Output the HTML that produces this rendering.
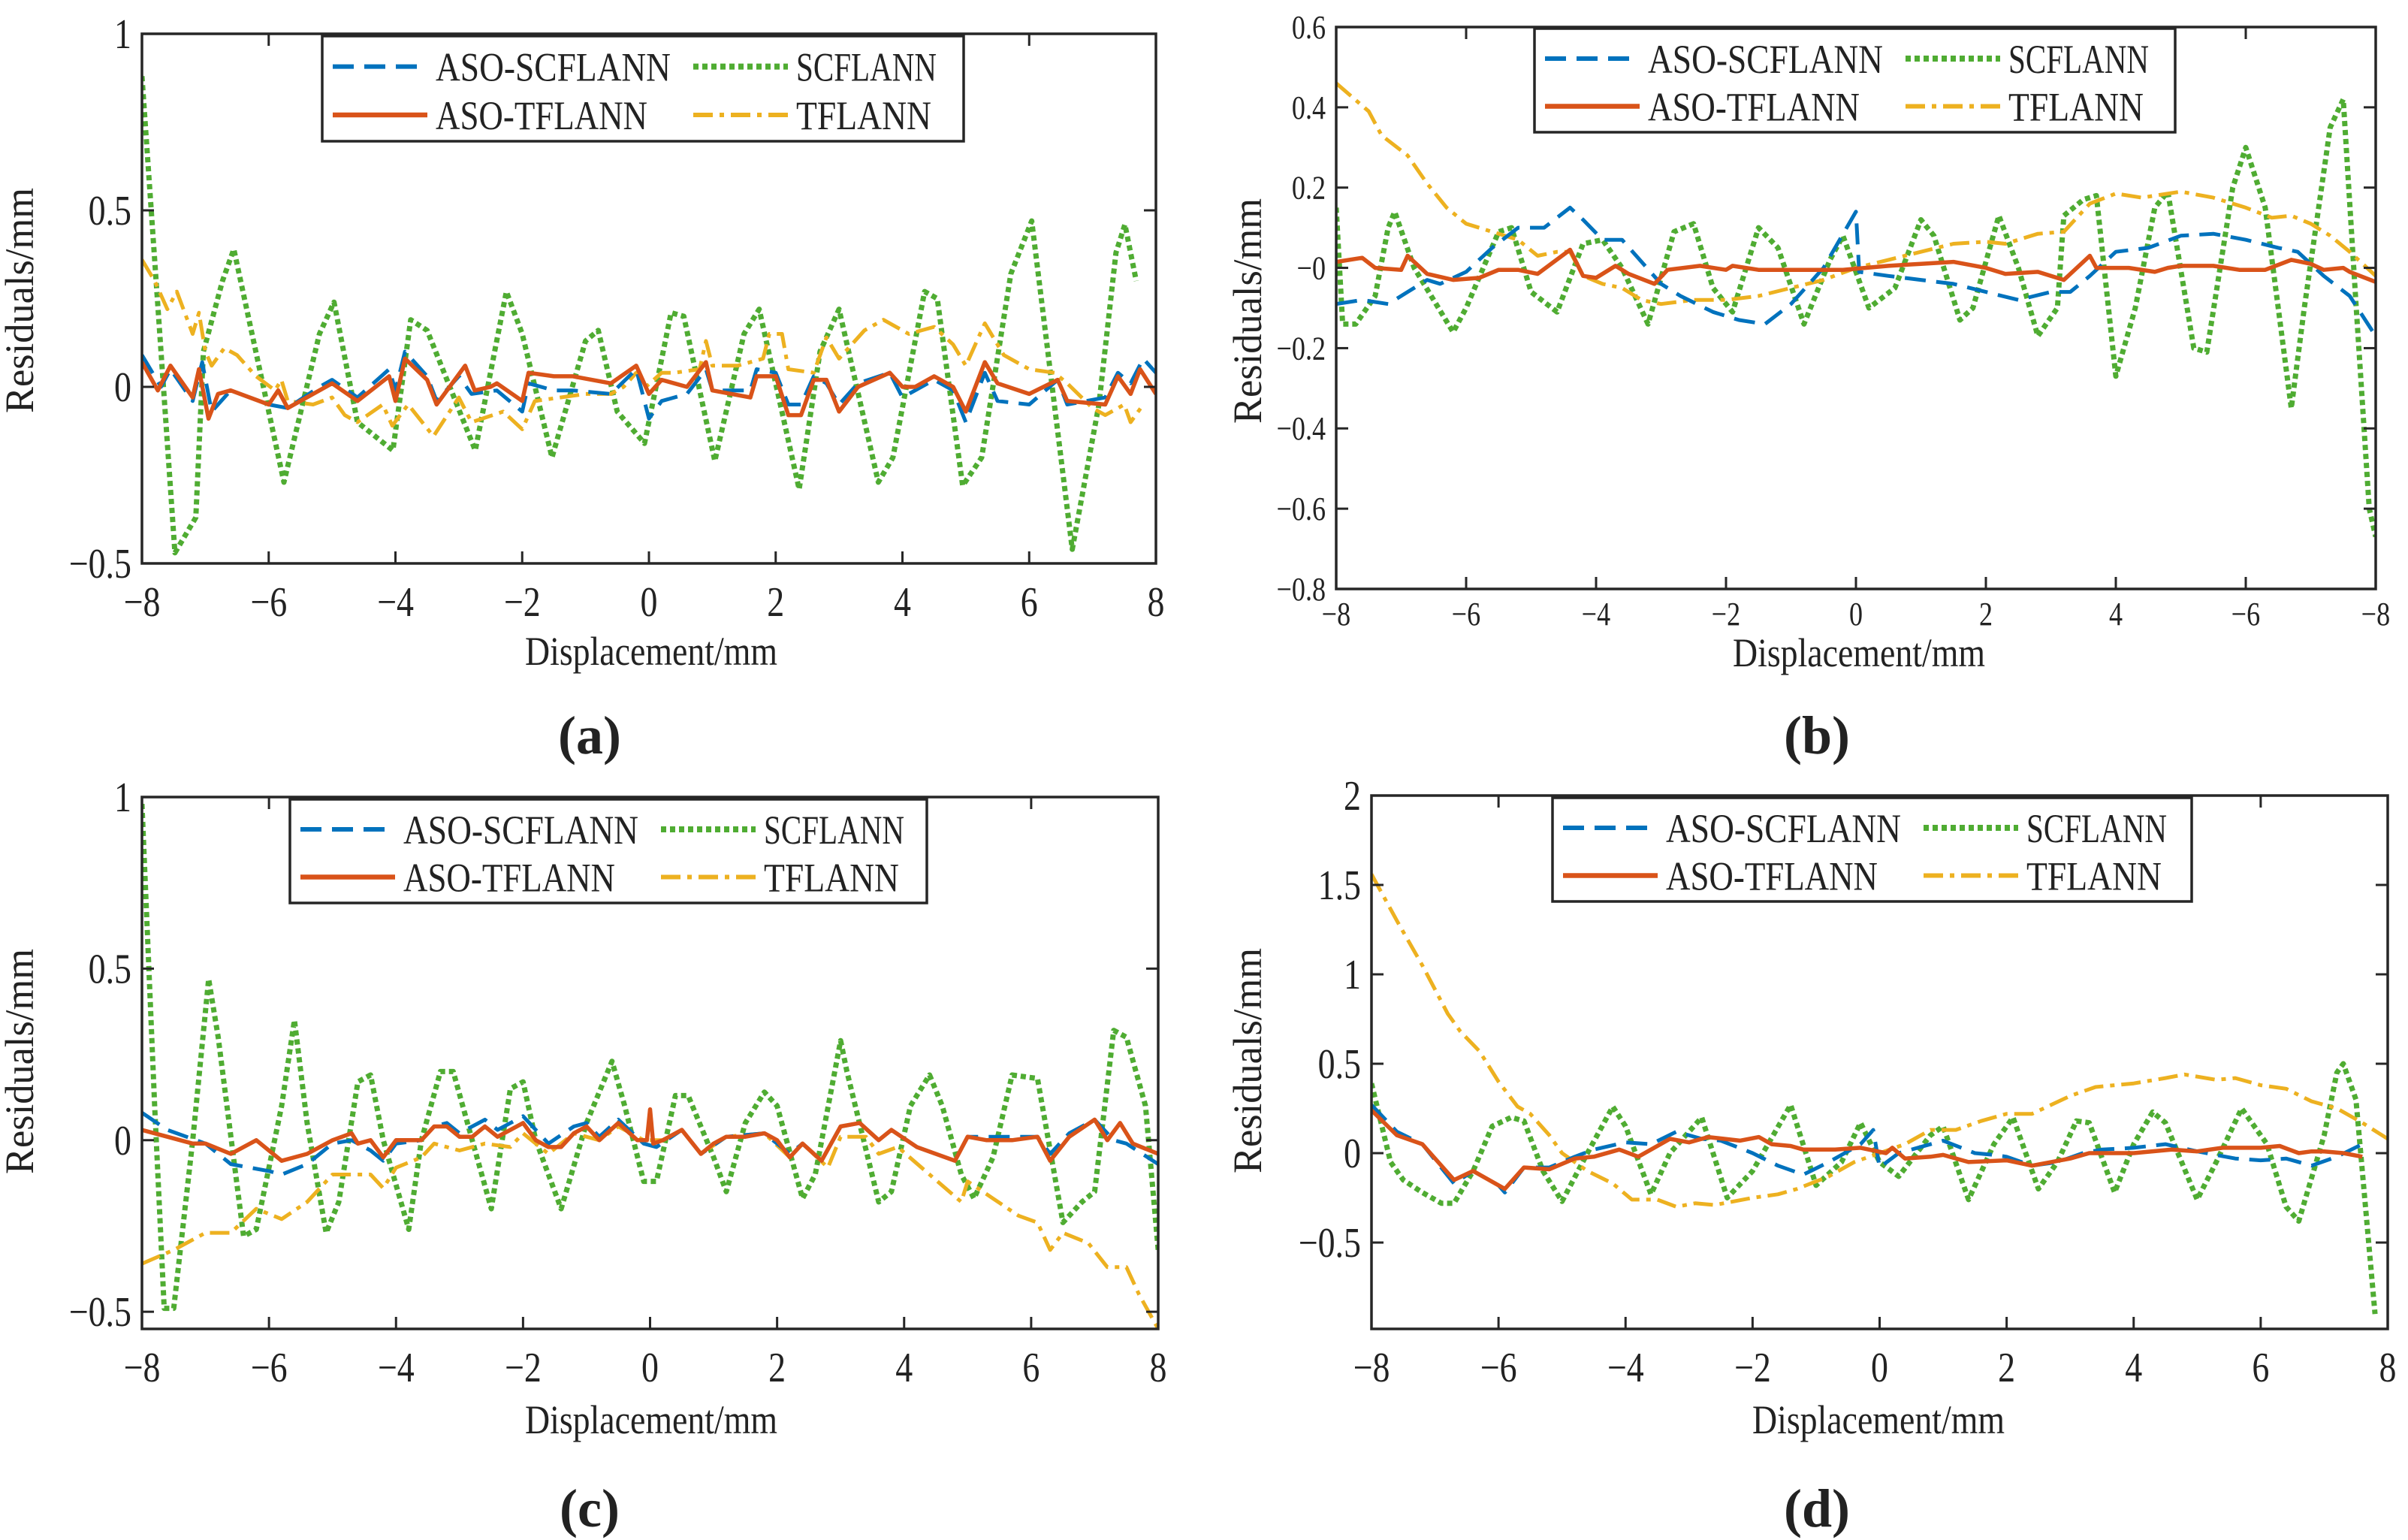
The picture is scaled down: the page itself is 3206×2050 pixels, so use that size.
<!DOCTYPE html>
<html><head><meta charset="utf-8"><style>
html,body{margin:0;padding:0;background:#fff;}
svg{display:block;}
text{font-family:"Liberation Serif",serif;fill:#222;}
</style></head><body>
<svg id="fig" xmlns="http://www.w3.org/2000/svg" width="3206" height="2050" viewBox="0 0 3206 2050"></svg>
<script>
// ---------- Panel (a) data ----------
const aGreenX=[-8,-7.48,-7.15,-7.03,-6.73,-6.55,-5.76,-5.2,-4.97,-4.6,-4.04,-3.76,-3.5,-2.74,-2.25,-2.0,-1.53,-1.0,-0.8,-0.5,-0.07,0.35,0.55,1.04,1.5,1.74,2.37,2.7,3.0,3.62,3.85,4.35,4.55,4.95,5.25,5.71,6.04,6.68,7.1,7.37,7.51,7.69];
const aGreenY=[0.88,-0.47,-0.37,0.1,0.3,0.39,-0.27,0.15,0.24,-0.1,-0.18,0.19,0.16,-0.18,0.27,0.15,-0.2,0.13,0.16,-0.07,-0.16,0.21,0.2,-0.21,0.15,0.22,-0.29,0.1,0.22,-0.27,-0.2,0.27,0.25,-0.28,-0.2,0.32,0.47,-0.46,-0.05,0.38,0.46,0.3];
const aRedX=[-8,-7.75,-7.55,-7.2,-7.1,-6.95,-6.8,-6.6,-6.0,-5.85,-5.7,-5.2,-5.0,-4.6,-4.1,-4.0,-3.85,-3.5,-3.35,-2.9,-2.75,-2.5,-2.4,-2.0,-1.9,-1.5,-1.2,-0.6,-0.2,0,0.2,0.6,0.9,1.0,1.6,1.7,2.0,2.2,2.4,2.6,2.8,3.0,3.3,3.8,4.0,4.2,4.5,4.8,5.0,5.3,5.5,6.0,6.45,6.6,7.2,7.4,7.6,7.75,8];
const aRedY=[0.07,-0.01,0.06,-0.03,0.05,-0.09,-0.02,-0.01,-0.05,-0.01,-0.06,-0.01,0.01,-0.04,0.03,-0.04,0.08,0.02,-0.05,0.06,-0.01,0,0.01,-0.04,0.04,0.03,0.03,0.01,0.06,-0.02,0.02,0,0.07,-0.01,-0.03,0.03,0.03,-0.08,-0.08,0.02,0.02,-0.07,0,0.04,0,0,0.03,0,-0.07,0.07,0.01,-0.02,0.02,-0.04,-0.05,0.03,-0.02,0.05,-0.02];
const aBlueX=[-8,-7.7,-7.55,-7.2,-7.05,-6.9,-6.6,-6.0,-5.7,-5.2,-5.0,-4.6,-4.1,-4.0,-3.85,-3.5,-3.35,-3.0,-2.8,-2.4,-2.0,-1.9,-1.5,-1.2,-0.6,-0.2,0,0.2,0.6,0.9,1.0,1.6,1.7,2.0,2.2,2.4,2.6,2.8,3.0,3.3,3.8,4.0,4.2,4.5,4.8,5.0,5.3,5.5,6.0,6.45,6.6,7.2,7.4,7.6,7.8,8];
const aBlueY=[0.09,0,0.05,-0.04,0.07,-0.07,-0.01,-0.05,-0.06,0,0.02,-0.03,0.05,-0.01,0.1,0.03,-0.04,0.03,-0.02,-0.01,-0.07,0.01,-0.01,-0.01,-0.02,0.05,-0.09,-0.04,-0.02,0.05,-0.01,-0.01,0.05,0.04,-0.05,-0.05,0.03,0.01,-0.05,0.01,0.04,-0.03,-0.01,0.02,-0.01,-0.1,0.04,-0.04,-0.05,0.02,-0.05,-0.03,0.04,0.01,0.08,0.04];
const aYellowX=[-8,-7.8,-7.6,-7.45,-7.2,-7.1,-7.0,-6.9,-6.7,-6.5,-6.2,-5.9,-5.8,-5.7,-5.3,-5.0,-4.8,-4.6,-4.2,-4.05,-3.8,-3.4,-3.0,-2.8,-2.3,-2.0,-1.8,-1.4,-1.0,-0.6,-0.4,-0.2,-0.05,0.2,0.4,0.8,0.9,1.0,1.4,1.8,1.9,2.1,2.2,2.6,2.8,3.0,3.2,3.4,3.7,4.1,4.5,4.8,5.0,5.3,5.6,6.0,6.4,6.6,7.0,7.2,7.5,7.6,7.8];
const aYellowY=[0.36,0.3,0.22,0.27,0.15,0.21,0.1,0.06,0.11,0.09,0.03,-0.01,0.02,-0.04,-0.05,-0.03,-0.08,-0.1,-0.05,-0.11,-0.05,-0.14,-0.03,-0.1,-0.07,-0.12,-0.04,-0.03,-0.02,-0.02,0,0.04,0,0.04,0.04,0.05,0.13,0.06,0.06,0.08,0.15,0.15,0.05,0.04,0.14,0.08,0.12,0.16,0.19,0.15,0.17,0.12,0.06,0.18,0.09,0.05,0.04,0.01,-0.06,-0.08,-0.05,-0.1,-0.05];
// ---------- Panel (b) data ----------
const bYellowX=[-8,-7.5,-7.3,-6.9,-6.6,-6.3,-6.0,-5.6,-5.2,-4.9,-4.6,-4.4,-4.2,-3.9,-3.6,-3.3,-3.0,-2.5,-2.0,-1.5,-1.0,-0.5,0,0.5,1.0,1.5,2.0,2.3,2.8,3.2,3.6,4.0,4.4,5.0,5.5,6.0,6.4,6.7,7.0,7.3,7.6,8];
const bYellowY=[0.46,0.39,0.33,0.28,0.21,0.15,0.11,0.09,0.07,0.03,0.04,0.04,-0.02,-0.04,-0.05,-0.08,-0.09,-0.08,-0.08,-0.07,-0.05,-0.03,0,0.02,0.04,0.06,0.065,0.06,0.085,0.09,0.16,0.185,0.175,0.19,0.175,0.15,0.125,0.13,0.11,0.08,0.04,-0.02];
const bBlueX=[-8,-7.6,-7.2,-6.9,-6.6,-6.4,-6.0,-5.6,-5.2,-4.8,-4.4,-4.2,-3.9,-3.6,-3.0,-2.7,-2.2,-1.8,-1.4,-1.0,-0.5,0,0.05,0.5,1.0,1.5,2.0,2.5,3.0,3.3,3.6,4.0,4.5,5.0,5.5,6.0,6.5,6.8,7.2,7.6,8];
const bBlueY=[-0.09,-0.08,-0.09,-0.06,-0.03,-0.04,-0.01,0.05,0.1,0.1,0.15,0.12,0.07,0.07,-0.04,-0.07,-0.11,-0.13,-0.14,-0.09,0,0.14,-0.01,-0.02,-0.03,-0.04,-0.06,-0.08,-0.06,-0.06,-0.02,0.04,0.05,0.08,0.085,0.07,0.05,0.04,-0.02,-0.07,-0.17];
const bRedX=[-8,-7.6,-7.4,-7.0,-6.9,-6.6,-6.2,-5.8,-5.5,-5.2,-4.9,-4.4,-4.2,-4.0,-3.7,-3.5,-3.1,-2.9,-2.4,-2.0,-1.9,-1.5,-1.2,-0.8,-0.2,0.5,1.0,1.5,2.0,2.3,2.8,3.2,3.6,3.7,4.2,4.6,4.8,5.0,5.5,5.9,6.3,6.7,7.0,7.2,7.5,7.6,8];
const bRedY=[0.015,0.025,0,-0.005,0.03,-0.015,-0.03,-0.025,-0.005,-0.005,-0.015,0.045,-0.02,-0.025,0.005,-0.015,-0.04,-0.005,0.005,-0.005,0.005,-0.005,-0.005,-0.005,-0.005,0.005,0.01,0.015,0,-0.015,-0.01,-0.03,0.03,0,0,-0.01,0,0.005,0.005,-0.005,-0.005,0.02,0.01,-0.005,0,-0.01,-0.035];
const bGreenX=[-8,-7.9,-7.7,-7.4,-7.2,-7.1,-6.8,-6.2,-6.0,-5.5,-5.3,-5.0,-4.6,-4.2,-3.9,-3.6,-3.2,-2.8,-2.5,-2.2,-1.9,-1.5,-1.2,-0.8,-0.4,-0.2,0.2,0.6,1.0,1.2,1.6,1.8,2.2,2.5,2.8,3.1,3.2,3.5,3.7,4.0,4.3,4.6,4.8,5.2,5.4,5.8,6.0,6.3,6.7,6.9,7.3,7.5,7.7,7.9,8];
const bGreenY=[0.15,-0.14,-0.14,-0.07,0.1,0.14,0,-0.16,-0.1,0.09,0.1,-0.06,-0.11,0.06,0.07,0,-0.14,0.09,0.11,-0.05,-0.11,0.1,0.05,-0.14,0.02,0.08,-0.1,-0.05,0.12,0.08,-0.13,-0.1,0.13,0,-0.17,-0.1,0.13,0.17,0.18,-0.27,-0.1,0.15,0.19,-0.2,-0.21,0.2,0.3,0.15,-0.35,-0.1,0.35,0.42,-0.1,-0.6,-0.67];
// ---------- Panel (c) data ----------
const cGreenX=[-8,-7.8,-7.65,-7.5,-7.2,-6.95,-6.8,-6.4,-6.2,-5.8,-5.6,-5.4,-5.1,-4.9,-4.6,-4.4,-4.2,-3.8,-3.6,-3.3,-3.1,-2.8,-2.5,-2.2,-2.0,-1.8,-1.4,-1.0,-0.6,-0.4,-0.1,0.1,0.4,0.6,1.0,1.2,1.5,1.8,2.0,2.4,2.6,3.0,3.1,3.6,3.8,4.1,4.4,4.6,4.9,5.1,5.4,5.7,6.1,6.5,6.8,7.0,7.3,7.5,7.8,8];
const cGreenY=[0.98,0.1,-0.49,-0.49,0,0.47,0.3,-0.28,-0.26,0.1,0.35,0.05,-0.27,-0.18,0.17,0.19,0,-0.26,0,0.2,0.2,0,-0.2,0.15,0.17,0,-0.2,0.05,0.23,0.1,-0.12,-0.12,0.13,0.13,-0.05,-0.15,0.05,0.14,0.1,-0.17,-0.1,0.29,0.2,-0.18,-0.15,0.1,0.19,0.1,-0.1,-0.17,-0.05,0.19,0.18,-0.24,-0.18,-0.15,0.32,0.3,0.1,-0.32];
const cRedX=[-8,-7.6,-7.2,-7.0,-6.6,-6.2,-5.8,-5.4,-5.0,-4.7,-4.6,-4.4,-4.2,-4.0,-3.6,-3.4,-3.2,-3.0,-2.8,-2.6,-2.4,-2.2,-2.0,-1.8,-1.6,-1.4,-1.2,-1.0,-0.8,-0.5,-0.2,-0.05,0,0.05,0.2,0.5,0.8,1.0,1.2,1.5,1.8,2.0,2.2,2.4,2.7,3.0,3.3,3.6,3.8,4.2,4.8,5.0,5.3,5.7,6.1,6.3,6.6,7.0,7.2,7.4,7.6,8];
const cRedY=[0.03,0.01,-0.01,-0.01,-0.04,0,-0.06,-0.04,0,0.02,-0.01,0,-0.05,0,0,0.04,0.04,0.01,0.01,0.04,0.01,0.03,0.05,0,-0.02,-0.02,0.02,0.04,0,0.05,0,0,0.09,-0.01,0,0.03,-0.04,-0.01,0.01,0.01,0.02,0,-0.05,-0.01,-0.06,0.04,0.05,0,0.03,-0.02,-0.06,0.01,0,0,0.01,-0.06,0.01,0.06,0,0.05,-0.01,-0.04];
const cBlueX=[-8,-7.6,-7.0,-6.6,-6.0,-5.8,-5.4,-5.0,-4.7,-4.4,-4.2,-4.0,-3.6,-3.4,-3.2,-3.0,-2.6,-2.4,-2.0,-1.6,-1.2,-1.0,-0.8,-0.5,-0.1,0.1,0.5,0.8,1.2,1.8,2.2,2.4,2.7,3.0,3.3,3.6,3.8,4.2,4.8,5.0,6.1,6.3,6.6,7.0,7.3,7.5,8];
const cBlueY=[0.08,0.03,-0.01,-0.07,-0.09,-0.1,-0.07,-0.01,0,-0.03,-0.06,-0.01,0,0.04,0.05,0.02,0.06,0.03,0.07,-0.01,0.04,0.05,0.01,0.06,-0.01,-0.02,0.03,-0.04,0.01,0.02,-0.04,-0.01,-0.06,0.04,0.05,0,0.03,-0.02,-0.06,0.01,0.01,-0.04,0.02,0.06,0,-0.01,-0.07];
const cYellowX=[-8,-7.5,-7.0,-6.6,-6.2,-5.8,-5.4,-5.0,-4.7,-4.4,-4.2,-4.0,-3.6,-3.4,-3.0,-2.6,-2.2,-2.0,-1.6,-1.2,-0.8,-0.5,-0.1,0.2,0.5,0.8,1.2,1.8,2.2,2.4,2.8,3.0,3.4,3.6,3.9,4.4,4.9,5.0,5.4,5.8,6.1,6.3,6.5,6.9,7.2,7.5,7.7,8];
const cYellowY=[-0.36,-0.32,-0.27,-0.27,-0.2,-0.23,-0.18,-0.1,-0.1,-0.1,-0.14,-0.08,-0.05,-0.01,-0.03,-0.01,-0.02,0.02,-0.04,0.02,0,0.04,0,0,0.03,-0.04,0.01,0.02,-0.05,-0.01,-0.08,0.01,0.01,-0.04,-0.02,-0.1,-0.18,-0.12,-0.17,-0.22,-0.24,-0.32,-0.27,-0.3,-0.37,-0.37,-0.45,-0.55];
// ---------- Panel (d) data ----------
const dYellowX=[-8,-7.6,-7.2,-6.8,-6.6,-6.3,-6.0,-5.7,-5.5,-5.2,-5.0,-4.6,-4.2,-3.9,-3.5,-3.2,-2.9,-2.6,-2.0,-1.6,-1.3,-0.8,-0.4,0,0.4,0.8,1.2,1.6,2.0,2.4,3.0,3.4,4.0,4.5,4.8,5.3,5.6,6.0,6.4,6.8,7.2,7.6,8];
const dYellowY=[1.56,1.3,1.05,0.78,0.68,0.57,0.4,0.26,0.22,0.1,0,-0.1,-0.17,-0.26,-0.26,-0.3,-0.28,-0.29,-0.25,-0.23,-0.2,-0.13,-0.05,0,0.05,0.13,0.13,0.18,0.22,0.22,0.32,0.37,0.39,0.42,0.44,0.41,0.42,0.38,0.36,0.29,0.25,0.17,0.08];
const dGreenX=[-8,-7.7,-7.5,-7.2,-6.9,-6.7,-6.4,-6.1,-5.8,-5.6,-5.3,-5.0,-4.6,-4.2,-4.0,-3.6,-3.3,-2.8,-2.4,-2.0,-1.4,-1.0,-0.6,-0.3,0,0.3,0.8,1.0,1.4,1.8,2.1,2.5,2.8,3.1,3.3,3.7,4.0,4.3,4.5,5.0,5.3,5.7,6.1,6.4,6.6,7.0,7.2,7.3,7.5,7.8];
const dGreenY=[0.39,-0.05,-0.15,-0.22,-0.28,-0.28,-0.1,0.15,0.2,0.18,-0.1,-0.27,0,0.26,0.15,-0.23,0,0.2,-0.25,-0.1,0.27,-0.18,-0.05,0.17,-0.05,-0.13,0.1,0.15,-0.26,0.05,0.2,-0.2,-0.05,0.18,0.17,-0.22,0.05,0.23,0.17,-0.26,-0.05,0.25,0.05,-0.3,-0.38,0.1,0.45,0.5,0.3,-0.9];
const dBlueX=[-8,-7.6,-7.2,-6.7,-6.4,-6.0,-5.9,-5.6,-5.2,-4.8,-4.5,-4.0,-3.6,-3.2,-2.8,-2.5,-2.0,-1.6,-1.2,-0.8,-0.3,-0.1,0,0.3,0.6,1.0,1.5,1.8,2.0,2.4,2.8,3.2,3.5,4.0,4.5,5.0,5.6,6.0,6.4,6.8,7.2,7.6];
const dBlueY=[0.27,0.12,0.05,-0.17,-0.1,-0.18,-0.22,-0.08,-0.08,-0.02,0.02,0.06,0.05,0.12,0.08,0.07,0,-0.07,-0.12,-0.05,0.05,0.13,-0.08,0,0.03,0.07,0,-0.01,-0.02,-0.07,-0.05,0,0.02,0.03,0.05,0.01,-0.03,-0.04,-0.03,-0.07,-0.02,0.05];
const dRedX=[-8,-7.6,-7.2,-6.7,-6.4,-5.9,-5.6,-5.2,-4.8,-4.5,-4.1,-3.8,-3.3,-3.0,-2.7,-2.2,-1.9,-1.7,-1.4,-1.2,-0.7,-0.3,0.1,0.2,0.4,0.8,1.0,1.4,2.0,2.4,3.0,3.3,4.0,4.6,5.0,5.4,6.0,6.3,6.6,6.8,7.0,7.3,7.6];
const dRedY=[0.24,0.1,0.05,-0.15,-0.1,-0.2,-0.08,-0.09,-0.03,-0.02,0.02,-0.02,0.08,0.06,0.09,0.07,0.09,0.05,0.04,0.02,0.02,0.03,0,0.03,-0.03,-0.02,-0.01,-0.05,-0.04,-0.07,-0.03,0,0,0.02,0.01,0.03,0.03,0.04,0,0.01,0.01,0,-0.02];
// ---------- Axis tick values / labels ----------
const xTickVals=[-8,-6,-4,-2,0,2,4,6,8];
const xTickLabels=["−8","−6","−4","−2","0","2","4","6","8"];
const xTickLabelsB=["−8","−6","−4","−2","0","2","4","−6","−8"];
const yTicksA=[-0.5,0,0.5,1];
const yLabelsA=["−0.5","0","0.5","1"];
const yTicksB=[-0.8,-0.6,-0.4,-0.2,0,0.2,0.4,0.6];
const yLabelsB=["−0.8","−0.6","−0.4","−0.2","−0","0.2","0.4","0.6"];
const yTicksC=[-0.5,0,0.5,1];
const yLabelsC=["−0.5","0","0.5","1"];
const yTicksD=[-0.5,0,0.5,1,1.5,2];
const yLabelsD=["−0.5","0","0.5","1","1.5","2"];
const seriesNames=["ASO-SCFLANN","SCFLANN","ASO-TFLANN","TFLANN"];

const NS="http://www.w3.org/2000/svg";
const svg=document.getElementById('fig');
function mk(tag,attrs,parent){const e=document.createElementNS(NS,tag);for(const k in attrs)e.setAttribute(k,attrs[k]);(parent||svg).appendChild(e);return e;}

const STY={
 blue:{stroke:"#0072BD",w:5,dash:"28 14"},
 green:{stroke:"#4FAC32",w:7,dash:"7 5"},
 red:{stroke:"#D95319",w:5.5,dash:""},
 yellow:{stroke:"#EDB120",w:5,dash:"26 9 6 9"}
};

function panel(p){
  const g=mk('g',{});
  
  
  const sx=v=>p.L+(v-p.xmin)/(p.xmax-p.xmin)*(p.R-p.L);
  const sy=v=>p.B-(v-p.ymin)/(p.ymax-p.ymin)*(p.B-p.T);
  const fs=p.fs||56, xo=p.xo||70;
  const clip='clip-'+p.id;
  const cp=mk('clipPath',{id:clip},g);mk('rect',{x:p.L,y:p.T,width:p.R-p.L,height:p.B-p.T},cp);
  const sg=mk('g',{'clip-path':'url(#'+clip+')'},g);
  
  
  for(const s of p.series){
    const st=STY[s.c];
    const pts=s.x.map((xv,i)=>sx(xv).toFixed(1)+','+sy(s.y[i]).toFixed(1)).join(' ');
    const pl=mk('polyline',{points:pts,fill:'none',stroke:st.stroke,'stroke-width':st.w,'stroke-dasharray':st.dash,'stroke-linejoin':'round'},sg);
    
    
  }
  const box=mk('rect',{x:p.L,y:p.T,width:p.R-p.L,height:p.B-p.T,fill:'none',stroke:'#262626','stroke-width':3.5},g);
  
  
  xTickVals.forEach((v,i)=>{
    const x=sx(v);
    mk('line',{x1:x,x2:x,y1:p.B,y2:p.B-16,stroke:'#262626','stroke-width':3},g);
    mk('line',{x1:x,x2:x,y1:p.T,y2:p.T+16,stroke:'#262626','stroke-width':3},g);
    const t=mk('text',{x:x,y:p.B+xo,'font-size':fs,'text-anchor':'middle',transform:`translate(${x},0) scale(0.82,1) translate(${-x},0)`},g);
    t.textContent=p.xl[i];
    
    
  });
  p.yt.forEach((v,i)=>{
    const y=sy(v);
    mk('line',{x1:p.L,x2:p.L+16,y1:y,y2:y,stroke:'#262626','stroke-width':3},g);
    mk('line',{x1:p.R,x2:p.R-16,y1:y,y2:y,stroke:'#262626','stroke-width':3},g);
    const xr=p.L-14;
    const t=mk('text',{x:xr,y:y+fs*0.34,'font-size':fs,'text-anchor':'end',transform:`translate(${xr},0) scale(0.82,1) translate(${-xr},0)`},g);
    t.textContent=p.yl[i];
    
    
  });
  const xt=mk('text',{x:p.xtx,y:p.xty,'font-size':54,'text-anchor':'middle',textLength:336,lengthAdjust:'spacingAndGlyphs'},g);
  xt.textContent='Displacement/mm';
  
  
  const yt=mk('text',{x:0,y:0,'font-size':54,'text-anchor':'middle',textLength:300,lengthAdjust:'spacingAndGlyphs',transform:`translate(${p.ytx},${p.yty}) rotate(-90)`},g);
  yt.textContent='Residuals/mm';
  
  
  const lg=mk('g',{},g);
  
  
  const lw=p.lg.w,lh=p.lg.h,lx=p.lg.x,ly=p.lg.y;
  mk('rect',{x:lx,y:ly,width:lw,height:lh,fill:'#fff',stroke:'#262626','stroke-width':3.5},lg);
  const ent=[["blue",0,0],["green",1,0],["red",0,1],["yellow",1,1]];
  const cols=[14,494],rows=[lh*0.29,lh*0.75];
  const txtW=[313,187,282,180];
  ent.forEach((e,i)=>{
    const [c,ci,ri]=e;const st=STY[c];
    const x0=lx+cols[ci],y0=ly+rows[ri];
    const eg=mk('g',{},lg);
    
    
    mk('line',{x1:x0,x2:x0+126,y1:y0,y2:y0,stroke:st.stroke,'stroke-width':st.w+1,'stroke-dasharray':st.dash},eg);
    const tt=mk('text',{x:x0+137,y:y0+19,'font-size':54,textLength:txtW[ri*2+ci],lengthAdjust:'spacingAndGlyphs'},eg);
    tt.textContent=seriesNames[ri*2+ci];
  });
  const pl=mk('text',{x:p.plx,y:p.ply,'font-size':72,'font-weight':'bold','text-anchor':'middle'},g);
  pl.textContent=p.label;
  
  
}

panel({id:'a',name:'panel-a',L:189,R:1539,T:45,B:750,xmin:-8,xmax:8,ymin:-0.5,ymax:1,
  xl:xTickLabels,yt:yTicksA,yl:yLabelsA,xtx:867,xty:885,ytx:44,yty:400,plx:785,ply:1003,label:'(a)',
  lg:{x:429,y:48,w:854,h:140},
  series:[{c:'green',n:'scflann-line',x:aGreenX,y:aGreenY},{c:'yellow',n:'tflann-line',x:aYellowX,y:aYellowY},{c:'blue',n:'aso-scflann-line',x:aBlueX,y:aBlueY},{c:'red',n:'aso-tflann-line',x:aRedX,y:aRedY}]});
panel({id:'b',name:'panel-b',L:1779,R:3163,T:36,B:784,xmin:-8,xmax:8,ymin:-0.8,ymax:0.6,fs:44,xo:48,
  xl:xTickLabelsB,yt:yTicksB,yl:yLabelsB,xtx:2475,xty:887,ytx:1679,yty:414,plx:2419,ply:1003,label:'(b)',
  lg:{x:2043,y:38,w:853,h:138},
  series:[{c:'green',n:'scflann-line',x:bGreenX,y:bGreenY},{c:'yellow',n:'tflann-line',x:bYellowX,y:bYellowY},{c:'blue',n:'aso-scflann-line',x:bBlueX,y:bBlueY},{c:'red',n:'aso-tflann-line',x:bRedX,y:bRedY}]});
panel({id:'c',name:'panel-c',L:189,R:1542,T:1061,B:1769,xmin:-8,xmax:8,ymin:-0.55,ymax:1,
  xl:xTickLabels,yt:yTicksC,yl:yLabelsC,xtx:867,xty:1908,ytx:44,yty:1413,plx:785,ply:2032,label:'(c)',
  lg:{x:386,y:1064,w:848,h:138},
  series:[{c:'green',n:'scflann-line',x:cGreenX,y:cGreenY},{c:'yellow',n:'tflann-line',x:cYellowX,y:cYellowY},{c:'blue',n:'aso-scflann-line',x:cBlueX,y:cBlueY},{c:'red',n:'aso-tflann-line',x:cRedX,y:cRedY}]});
panel({id:'d',name:'panel-d',L:1826,R:3179,T:1059,B:1769,xmin:-8,xmax:8,ymin:-0.983,ymax:2,
  xl:xTickLabels,yt:yTicksD,yl:yLabelsD,xtx:2501,xty:1908,ytx:1679,yty:1412,plx:2419,ply:2032,label:'(d)',
  lg:{x:2067,y:1062,w:851,h:138},
  series:[{c:'green',n:'scflann-line',x:dGreenX,y:dGreenY},{c:'yellow',n:'tflann-line',x:dYellowX,y:dYellowY},{c:'blue',n:'aso-scflann-line',x:dBlueX,y:dBlueY},{c:'red',n:'aso-tflann-line',x:dRedX,y:dRedY}]});
</script>
</body></html>
